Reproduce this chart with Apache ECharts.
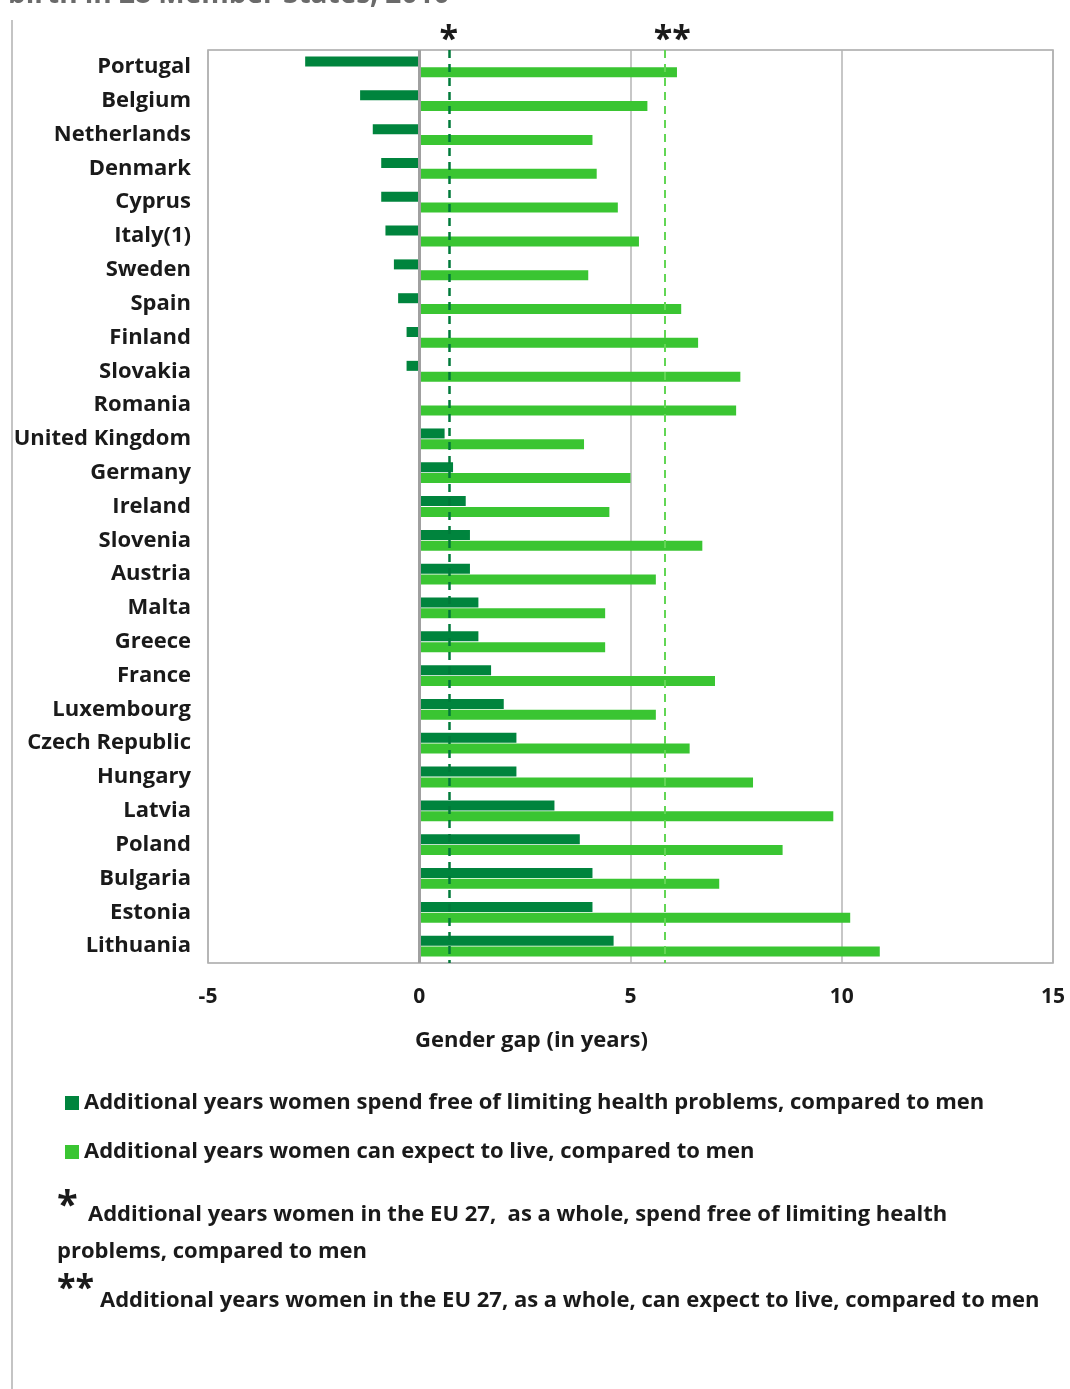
<!DOCTYPE html>
<html>
<head>
<meta charset="utf-8">
<script src="https://cdn.jsdelivr.net/npm/echarts@6/dist/echarts.min.js"></script>
<style>
html,body{margin:0;padding:0;background:#fff;}
#chart{width:1070px;height:1389px;}
</style>
</head>
<body>
<div id="chart"></div>
<script>
const countries = ['Portugal','Belgium','Netherlands','Denmark','Cyprus','Italy(1)','Sweden','Spain','Finland','Slovakia','Romania','United Kingdom','Germany','Ireland','Slovenia','Austria','Malta','Greece','France','Luxembourg','Czech Republic','Hungary','Latvia','Poland','Bulgaria','Estonia','Lithuania'];
const healthyYearsGap = [-2.7,-1.4,-1.1,-0.9,-0.9,-0.8,-0.6,-0.5,-0.3,-0.3,0,0.6,0.8,1.1,1.2,1.2,1.4,1.4,1.7,2.0,2.3,2.3,3.2,3.8,4.1,4.1,4.6];
const lifeExpectancyGap = [6.1,5.4,4.1,4.2,4.7,5.2,4.0,6.2,6.6,7.6,7.5,3.9,5.0,4.5,6.7,5.6,4.4,4.4,7.0,5.6,6.4,7.9,9.8,8.6,7.1,10.2,10.9];
const eu27HealthyGap = 0.7;
const eu27LifeGap = 5.8;
const xTicks = [-5, 0, 5, 10, 15];
const seriesNames = ['Additional years women spend free of limiting health problems, compared to men','Additional years women can expect to live, compared to men'];

const FONT = '"Open Sans", "Liberation Sans", sans-serif';
const DARK = '#00843d';
const LIGHT = '#3ac532';
const TXT = '#1a1a1a';

const chart = echarts.init(document.getElementById('chart'), null, {renderer:'canvas'});
chart.setOption({
  backgroundColor: '#ffffff',
  animation: false,
  textStyle: {fontFamily: FONT},
  grid: {left: 208, right: 17, top: 50, bottom: 426, show: true, borderColor: '#a6a6a6', borderWidth: 1.5, containLabel: false},
  legend: {
    orient: 'vertical', left: 60, top: 1087, itemGap: 27,
    icon: 'rect', itemWidth: 14, itemHeight: 14,
    textStyle: {fontFamily: FONT, fontSize: 22, fontWeight: 700, color: TXT, lineHeight: 20},
    data: seriesNames
  },
  xAxis: {
    type: 'value', min: xTicks[0], max: xTicks[xTicks.length-1], interval: 5,
    axisLine: {show: false}, axisTick: {show: false},
    splitLine: {show: true, lineStyle: {color: '#b4b4b4', width: 1.5}},
    axisLabel: {fontFamily: FONT, fontSize: 21, fontWeight: 700, color: TXT, margin: 24},
    name: 'Gender gap (in years)', nameLocation: 'middle', nameGap: 67,
    nameTextStyle: {fontFamily: FONT, fontSize: 22, fontWeight: 700, color: TXT, padding: [0, 198, 0, 0]}
  },
  yAxis: {
    type: 'category', inverse: true, data: countries,
    axisLine: {show: false}, axisTick: {show: false}, splitLine: {show: false},
    axisLabel: {fontFamily: FONT, fontSize: 22, fontWeight: 700, color: TXT, margin: 17}
  },
  series: [
    {
      name: seriesNames[0], type: 'bar', data: healthyYearsGap, barWidth: 10, barGap: '8%',
      itemStyle: {color: DARK},
      markLine: {
        silent: true, symbol: ['none','none'],
        data: [
          {xAxis: 0, lineStyle: {color: '#a0a0a0', width: 3, type: 'solid'}, label: {show: false}},
          {xAxis: eu27HealthyGap, lineStyle: {color: '#007a3a', width: 2.5, type: [8,6]},
           label: {show: true, position: 'start', formatter: '*', fontSize: 34, fontWeight: 700, color: TXT, distance: -7}}
        ]
      }
    },
    {
      name: seriesNames[1], type: 'bar', data: lifeExpectancyGap, barWidth: 10, barGap: '8%',
      itemStyle: {color: LIGHT},
      markLine: {
        silent: true, symbol: ['none','none'],
        data: [
          {xAxis: eu27LifeGap, lineStyle: {color: '#62d654', width: 2, type: [8,6]},
           label: {show: true, position: 'start', formatter: '**', fontSize: 34, fontWeight: 700, color: TXT, distance: -7, padding: [0, 0, 0, 16]}}
        ]
      }
    }
  ],
  graphic: [
    {type: 'line', shape: {x1: 12, y1: 20, x2: 12, y2: 1389}, style: {stroke: '#c4c4c4', lineWidth: 2}},
    {type: 'text', left: 8, top: -19, style: {text: 'birth in 28 Member States, 2010', font: '700 28px "Open Sans", sans-serif', fill: '#6a6a6a'}},
    {type: 'text', x: 57, y: 1188, style: {text: '*', font: '700 38px "Open Sans", sans-serif', fill: TXT}},
    {type: 'text', x: 88, y: 1204, style: {text: 'Additional years women in the EU 27,  as a whole, spend free of limiting health', font: '700 22px "Open Sans", sans-serif', fill: TXT}},
    {type: 'text', x: 57, y: 1241, style: {text: 'problems, compared to men', font: '700 22px "Open Sans", sans-serif', fill: TXT}},
    {type: 'text', x: 57, y: 1272, style: {text: '**', font: '700 34px "Open Sans", sans-serif', fill: TXT}},
    {type: 'text', x: 100, y: 1290, style: {text: 'Additional years women in the EU 27, as a whole, can expect to live, compared to men', font: '700 22px "Open Sans", sans-serif', fill: TXT}}
  ]
});
</script>
</body>
</html>
